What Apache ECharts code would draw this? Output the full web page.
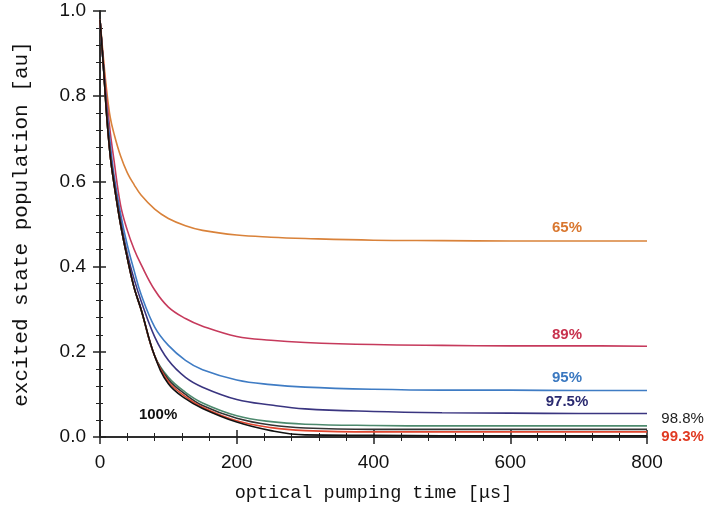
<!DOCTYPE html>
<html>
<head>
<meta charset="utf-8">
<script src="https://cdn.jsdelivr.net/npm/echarts@6/dist/echarts.min.js"></script>
<style>
    html, body { margin: 0; padding: 0; background: #fff; }
</style>
</head>
<body>
<div id="main" style="width: 710px;height: 511px"></div>
<script type="text/javascript">
    // 时间轴 (µs)
    var timeUs = [0, 5, 10, 15, 20, 30, 40, 50, 60, 80, 100, 125, 150, 200, 250, 300, 400, 500, 600, 700, 800];

    // 各曲线读数
    var pop65  = [0.98, 0.89, 0.81, 0.75, 0.715, 0.66, 0.62, 0.592, 0.568, 0.535, 0.513, 0.496, 0.485, 0.474, 0.469, 0.466, 0.462, 0.461, 0.46, 0.46, 0.46];
    var pop89  = [0.98, 0.88, 0.79, 0.715, 0.655, 0.545, 0.485, 0.44, 0.405, 0.345, 0.305, 0.278, 0.26, 0.236, 0.227, 0.222, 0.217, 0.215, 0.214, 0.214, 0.213];
    var pop95  = [0.98, 0.87, 0.77, 0.69, 0.62, 0.525, 0.45, 0.39, 0.335, 0.258, 0.215, 0.18, 0.158, 0.134, 0.123, 0.117, 0.112, 0.11, 0.11, 0.109, 0.109];
    var pop975 = [0.98, 0.87, 0.76, 0.67, 0.61, 0.51, 0.43, 0.37, 0.32, 0.235, 0.18, 0.14, 0.117, 0.088, 0.075, 0.066, 0.06, 0.057, 0.056, 0.055, 0.055];
    var pop988 = [0.98, 0.87, 0.75, 0.66, 0.60, 0.50, 0.42, 0.35, 0.30, 0.19, 0.14, 0.105, 0.08, 0.05, 0.036, 0.03, 0.027, 0.026, 0.026, 0.026, 0.026];
    var popMid = [0.98, 0.87, 0.75, 0.66, 0.60, 0.50, 0.42, 0.35, 0.30, 0.19, 0.135, 0.10, 0.074, 0.044, 0.028, 0.021, 0.018, 0.018, 0.018, 0.018, 0.018];
    var pop993 = [0.98, 0.87, 0.75, 0.66, 0.60, 0.50, 0.42, 0.35, 0.30, 0.19, 0.13, 0.095, 0.07, 0.038, 0.022, 0.015, 0.012, 0.012, 0.012, 0.012, 0.012];
    var pop100 = [0.98, 0.87, 0.75, 0.66, 0.60, 0.50, 0.42, 0.35, 0.30, 0.19, 0.125, 0.09, 0.067, 0.035, 0.015, 0.005, 0.004, 0.003, 0.003, 0.003, 0.003];

    var xTicks = [0, 200, 400, 600, 800];
    var yTicks = [0.0, 0.2, 0.4, 0.6, 0.8, 1.0];

    function pairs(vals) {
        return timeUs.map(function (t, i) { return [t, vals[i]]; });
    }

    var myChart = echarts.init(document.getElementById('main'));

    var tickFont = { fontFamily: 'Liberation Sans', fontSize: 19, color: '#111' };
    var axisLine = { lineStyle: { color: '#222', width: 1.5 } };

    function line(name, vals, color) {
        return {
            name: name,
            type: 'line',
            data: pairs(vals),
            showSymbol: false,
            smooth: 0.4,
            lineStyle: { color: color, width: 1.6 },
            z: 3
        };
    }

    var option = {
        animation: false,
        grid: { left: 100, right: 63, top: 11, bottom: 74 },
        xAxis: [{
            type: 'value',
            min: xTicks[0], max: xTicks[xTicks.length - 1], interval: 200,
            name: 'optical pumping time [\u03bcs]',
            nameLocation: 'middle', nameGap: 47,
            nameTextStyle: { fontFamily: 'Liberation Mono', fontSize: 18.5, color: '#111' },
            axisLine: axisLine,
            axisTick: { inside: true, length: 7, lineStyle: { color: '#222', width: 1.5 } },
            minorTick: { show: true, splitNumber: 5, length: 4, lineStyle: { color: '#222', width: 1 } },
            axisLabel: Object.assign({ margin: 16 }, tickFont),
            splitLine: { show: false }
        }, {
            type: 'value', position: 'top',
            min: 0, max: 800, interval: 200,
            axisLine: axisLine,
            axisTick: { inside: true, length: 7, lineStyle: { color: '#222', width: 1.5 } },
            minorTick: { show: true, splitNumber: 5, length: 4, lineStyle: { color: '#222', width: 1 } },
            axisLabel: { show: false },
            splitLine: { show: false }
        }],
        yAxis: [{
            type: 'value',
            min: yTicks[0], max: yTicks[yTicks.length - 1], interval: 0.2,
            name: 'excited state population [au]',
            nameLocation: 'middle', nameGap: 68,
            nameTextStyle: { fontFamily: 'Liberation Mono', fontSize: 21, color: '#111' },
            axisLine: axisLine,
            axisTick: { inside: false, length: 7, lineStyle: { color: '#222', width: 1.5 } },
            minorTick: { show: true, splitNumber: 5, length: 4, lineStyle: { color: '#222', width: 1 } },
            axisLabel: Object.assign({ margin: 14, formatter: function (v) { return v.toFixed(1); } }, tickFont),
            splitLine: { show: false }
        }, {
            type: 'value', position: 'right',
            min: 0, max: 1, interval: 0.2,
            axisLine: axisLine,
            axisTick: { inside: false, length: 6, lineStyle: { color: '#222', width: 1.5 } },
            minorTick: { show: true, splitNumber: 5, length: 3, lineStyle: { color: '#222', width: 1 } },
            axisLabel: { show: false },
            splitLine: { show: false }
        }],
        series: [
            line('65%', pop65, '#d9823a'),
            line('89%', pop89, '#c63a5c'),
            line('95%', pop95, '#3f7cc4'),
            line('97.5%', pop975, '#3a3580'),
            line('98.8%', pop988, '#4d8a6e'),
            line('mid', popMid, '#333333'),
            line('99.3%', pop993, '#e0452e'),
            line('100%', pop100, '#111111')
        ]
    };

    myChart.setOption(option);

    // 曲线标注
    var notes = [
        { text: '65%', t: 683, v: 0.49, color: '#d9772f', size: 15, weight: 'bold' },
        { text: '89%', t: 683, v: 0.24, color: '#c8324e', size: 15, weight: 'bold' },
        { text: '95%', t: 683, v: 0.138, color: '#3a78c0', size: 15, weight: 'bold' },
        { text: '97.5%', t: 683, v: 0.082, color: '#2a2a70', size: 15, weight: 'bold' },
        { text: '100%', t: 85, v: 0.052, color: '#111', size: 15, weight: 'bold' },
        { text: '98.8%', t: 852, v: 0.042, color: '#222', size: 15, weight: 'normal' },
        { text: '99.3%', t: 852, v: 0.0, color: '#e03a22', size: 15, weight: 'bold' }
    ];
    myChart.setOption({
        graphic: notes.map(function (n) {
            var p = myChart.convertToPixel({ xAxisIndex: 0, yAxisIndex: 0 }, [n.t, n.v]);
            return {
                type: 'text', x: p[0], y: p[1], z: 10,
                style: {
                    text: n.text, fill: n.color, align: 'center', verticalAlign: 'middle',
                    font: n.weight + ' ' + n.size + 'px "Liberation Sans"'
                }
            };
        })
    });
</script>
</body>
</html>
